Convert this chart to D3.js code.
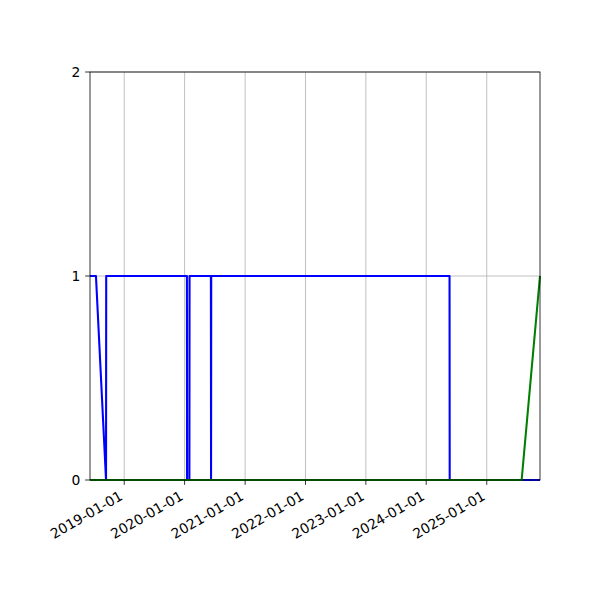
<!DOCTYPE html>
<html>
<head>
<meta charset="utf-8">
<script src="https://cdn.jsdelivr.net/npm/d3@7"></script>
<style>
  body { margin: 0; background: #fff; }
  svg { display: block; }
</style>
</head>
<body>
<svg id="chart" width="600" height="600"></svg>
<script>
// series data
const blueDates = ['2018-06-08', '2018-07-14', '2018-09-13', '2018-09-14', '2020-01-15', '2020-01-16',
  '2020-01-30', '2020-01-31', '2020-06-08', '2020-06-09', '2020-06-10', '2024-05-21', '2024-05-22', '2025-11-19'];
const blueValues = [1, 1, 0, 1, 1, 0, 0, 1, 1, 0, 1, 1, 0, 0];
const greenDates = ['2018-06-08', '2025-07-31', '2025-11-19'];
const greenValues = [0, 0, 1];
const xTickLabels = ['2019-01-01', '2020-01-01', '2021-01-01', '2022-01-01', '2023-01-01', '2024-01-01', '2025-01-01'];
const yTickValues = [0, 1, 2];

const parse = d3.utcParse('%Y-%m-%d');
const blue = blueDates.map((d, i) => ({ date: parse(d), value: blueValues[i] }));
const green = greenDates.map((d, i) => ({ date: parse(d), value: greenValues[i] }));

// axes box (matplotlib-like layout)
const margin = { top: 72, right: 60, bottom: 120, left: 90 };
const width = 600 - margin.left - margin.right;
const height = 600 - margin.top - margin.bottom;
const fontSize = 13.89;
const tickLen = 4.86;

const svg = d3.select('#chart');
const g = svg.append('g')
  .attr('transform', 'translate(' + margin.left + ',' + margin.top + ')');

const x = d3.scaleUtc()
  .domain(d3.extent(blue.concat(green), d => d.date))
  .range([0, width]);
const y = d3.scaleLinear().domain([0, 2]).range([height, 0]);

const xTicks = xTickLabels.map(parse);

// grid
g.append('g')
  .selectAll('line.xg')
  .data(xTicks)
  .enter()
  .append('line')
  .attr('x1', d => x(d)).attr('x2', d => x(d))
  .attr('y1', 0).attr('y2', height)
  .attr('stroke', '#b0b0b0').attr('stroke-width', 0.8);
g.append('g')
  .selectAll('line.yg')
  .data(yTickValues)
  .enter()
  .append('line')
  .attr('x1', 0).attr('x2', width)
  .attr('y1', d => y(d)).attr('y2', d => y(d))
  .attr('stroke', '#b0b0b0').attr('stroke-width', 0.8);

// lines
const line = d3.line().x(d => x(d.date)).y(d => y(d.value));
g.append('path').datum(blue)
  .attr('d', line)
  .attr('fill', 'none').attr('stroke', '#0000ff')
  .attr('stroke-width', 2.08).attr('stroke-linejoin', 'round');
g.append('path').datum(green)
  .attr('d', line)
  .attr('fill', 'none').attr('stroke', '#008000')
  .attr('stroke-width', 2.08).attr('stroke-linejoin', 'round');

// spines
g.append('rect')
  .attr('width', width).attr('height', height)
  .attr('fill', 'none').attr('stroke', '#000').attr('stroke-width', 0.8);

// x axis ticks and rotated labels
const xAxis = g.append('g').attr('transform', 'translate(0,' + height + ')');
const xt = xAxis.selectAll('g')
  .data(xTicks)
  .enter()
  .append('g')
  .attr('transform', d => 'translate(' + x(d) + ',0)');
xt.append('line')
  .attr('y2', tickLen).attr('stroke', '#000').attr('stroke-width', 0.8);
xt.append('text')
  .attr('transform', 'translate(-0.5,' + (tickLen * 2 + 9.1) + ') rotate(-30)')
  .attr('text-anchor', 'end')
  .attr('font-family', 'DejaVu Sans')
  .attr('font-size', fontSize)
  .attr('fill', '#000')
  .text(d => d3.utcFormat('%Y-%m-%d')(d));

// y axis
const yt = g.append('g')
  .selectAll('g')
  .data(yTickValues)
  .enter()
  .append('g')
  .attr('transform', d => 'translate(0,' + y(d) + ')');
yt.append('line')
  .attr('x2', -tickLen).attr('stroke', '#000').attr('stroke-width', 0.8);
yt.append('text')
  .attr('x', -tickLen * 2)
  .attr('dy', '0.36em')
  .attr('text-anchor', 'end')
  .attr('font-family', 'DejaVu Sans')
  .attr('font-size', fontSize)
  .attr('fill', '#000')
  .text(d => d);
</script>
</body>
</html>
